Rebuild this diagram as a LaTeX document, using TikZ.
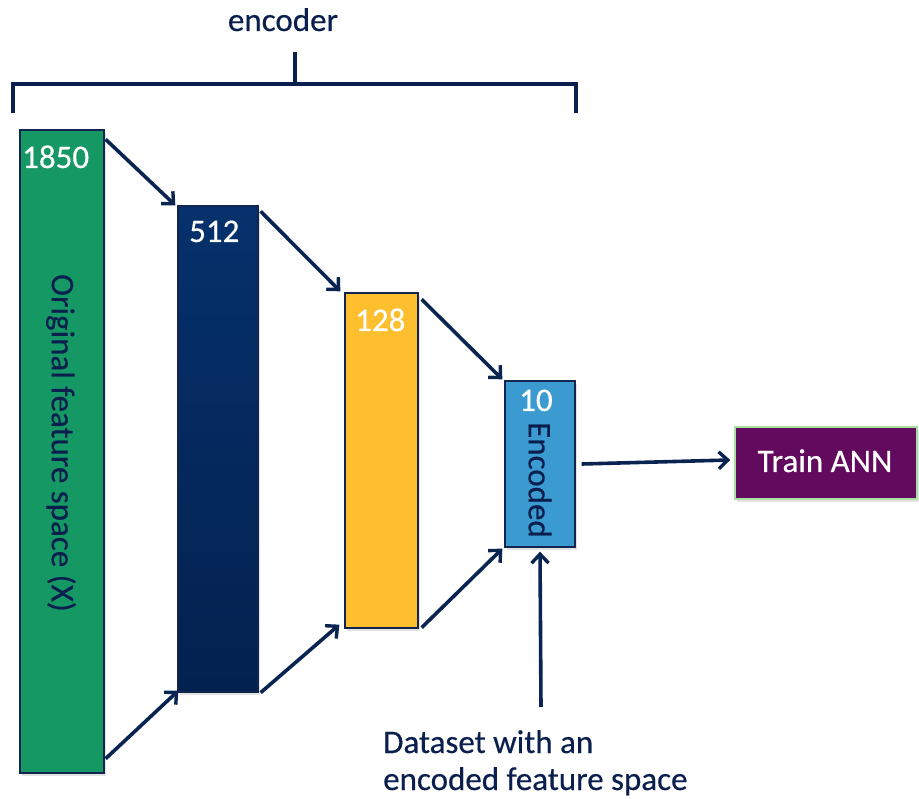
\documentclass[tikz,border=0pt]{standalone}
\usepackage{fontspec}
\setmainfont{Carlito}[FakeBold=0.4]
\usetikzlibrary{arrows.meta,calc,shadows}
\definecolor{cgreen}{HTML}{169865}
\definecolor{cnavytop}{HTML}{06316C}
\definecolor{cnavybot}{HTML}{03214F}
\definecolor{cyellow}{HTML}{FDBF2E}
\definecolor{cblue}{HTML}{3B9BD1}
\definecolor{cpurple}{HTML}{620A5E}
\definecolor{ctext}{HTML}{0B1F4E}
\definecolor{carrow}{HTML}{0A2452}
\definecolor{cborder}{HTML}{13254F}
\definecolor{cpborder}{HTML}{A8E0A0}
\begin{document}
\begin{tikzpicture}[x=1pt,y=-1pt,
  bar/.style={draw=cborder, line width=1.3pt, minimum width=#1, inner sep=0pt,
    drop shadow={opacity=0.22, shadow xshift=2pt, shadow yshift=-3pt}},
  lab/.style={font=\fontsize{33}{36}\selectfont, inner sep=0pt},
  numlab/.style={lab, text=white, anchor=base west},
  darklab/.style={lab, text=ctext},
  conn/.style={draw=carrow, line width=3.6pt, -{Straight Barb[length=9pt,width=17pt,line width=3.4pt]}},
  brack/.style={draw=ctext, line width=3.2pt}]
\useasboundingbox (0,0) rectangle (919,799);
\fill[white] (0,0) rectangle (919,799);

% bracket
\node[darklab, anchor=base] (enc) at (283,31) {encoder};
\coordinate (bl) at (13,113);
\coordinate (blt) at (13,84);
\coordinate (brt) at (576,84);
\coordinate (br) at (576,113);
\coordinate (bm) at (295,84);
\coordinate (bmt) at (295,52);
\draw[brack] (bl) -- (blt) -- (brt) -- (br);
\draw[brack] (bm) -- (bmt);

% bars
\node[bar=84pt, minimum height=643pt, fill=cgreen] (g) at (62,451.5) {};
\node[bar=80pt, minimum height=486pt, top color=cnavytop, bottom color=cnavybot] (n) at (218,449) {};
\node[bar=73pt, minimum height=335pt, fill=cyellow] (y) at (381.5,460.5) {};
\node[bar=70pt, minimum height=166pt, fill=cblue] (b) at (540,464) {};
\node[draw=cpborder, line width=1.5pt, fill=cpurple, minimum width=182pt, minimum height=72pt,
  drop shadow={opacity=0.22, shadow xshift=2pt, shadow yshift=-3pt}] (t) at (826,463) {};

% labels
\node[numlab] (l1850) at (22,168) {1850};
\node[numlab] (l512) at (189,242) {512};
\node[numlab] (l128) at (355,331) {128};
\node[numlab] (l10) at (519,411) {10};
\node[darklab, rotate=-90] (lorig) at (61,443) {Original feature space (X)};
\node[darklab, rotate=-90] (lenc) at (540,480) {Encoded};
\node[lab, text=white, anchor=base] (ltrain) at (825,472) {Train ANN};
\node[darklab, anchor=base west] (ds1) at (383,753) {Dataset with an};
\node[darklab, anchor=base west] (ds2) at (383,790) {encoded feature space};

% connectors
\draw[conn] ($(g.north east)+(1,10)$) -- ($(n.north west)+(-2,0)$);
\draw[conn] ($(g.south east)+(1,-15)$) -- ($(n.south west)+(1,-2)$);
\draw[conn] ($(n.north east)+(2,6)$) -- ($(y.north west)+(-4,-1)$);
\draw[conn] ($(n.south east)+(2,0)$) -- ($(y.south west)+(-5,-4)$);
\draw[conn] ($(y.north east)+(3,7)$) -- ($(b.north west)+(-2,-1)$);
\draw[conn] ($(y.south east)+(3,-1)$) -- ($(b.south west)+(-2,1)$);
\draw[conn] ($(b.east)+(6,0)$) -- ($(t.west)+(-4,-3)$);
\coordinate (dsend) at (541,707);
\draw[conn] (dsend) -- ($(b.south)+(0,4)$);
\end{tikzpicture}
\end{document}
